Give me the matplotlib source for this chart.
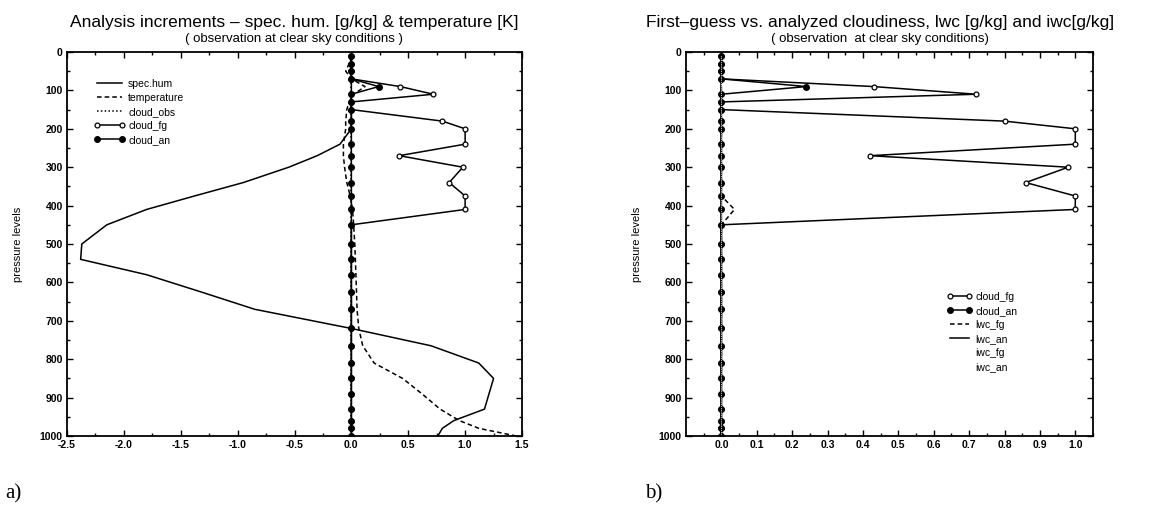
import numpy as np
import matplotlib
matplotlib.use('Agg')
import matplotlib.pyplot as plt
from matplotlib.ticker import MultipleLocator, FixedLocator

plt.rcParams['font.family'] = ['Liberation Sans', 'DejaVu Sans']

# model levels (pressure levels) used by all profiles
levels = [10, 30, 50, 70, 90, 110, 130, 150, 180, 200, 240, 270, 300, 340, 375, 410,
          450, 500, 540, 580, 625, 670, 720, 765, 810, 850, 890, 930, 960, 980, 1000]

# panel a) increments
spec_hum = [0, 0, 0, 0, 0, 0, 0, 0, 0, 0, -0.10, -0.30, -0.55, -0.95, -1.38, -1.80,
            -2.15, -2.37, -2.38, -1.80, -1.32, -0.85, 0.0, 0.70, 1.12, 1.25, 1.21, 1.17,
            0.90, 0.80, 0.76]
temperature = [0.0, -0.02, -0.05, 0.0, 0.12, 0.02, -0.02, -0.04, -0.05, -0.05, -0.07,
               -0.07, -0.06, -0.04, -0.01, 0.01, 0.02, 0.03, 0.035, 0.04, 0.045, 0.05,
               0.065, 0.10, 0.20, 0.45, 0.62, 0.78, 0.95, 1.12, 1.45]
cloud_obs = [0.0] * 31

# cloud cover first guess / analysis (shared by both panels)
cloud_fg = [0, 0, 0, 0, 0.43, 0.72, 0, 0, 0.80, 1.0, 1.0, 0.42, 0.98, 0.86, 1.0, 1.0,
            0, 0, 0, 0, 0, 0, 0, 0, 0, 0, 0, 0, 0, 0, 0]
cloud_an = [0, 0, 0, 0, 0.24, 0, 0, 0, 0, 0, 0, 0, 0, 0, 0, 0,
            0, 0, 0, 0, 0, 0, 0, 0, 0, 0, 0, 0, 0, 0, 0]

# panel b) liquid / ice water content
lwc_fg = [0, 0, 0, 0, 0, 0, 0, 0, 0, 0, 0, 0, 0, 0, 0, 0.037,
          0, 0, 0, 0, 0, 0, 0, 0, 0, 0, 0, 0, 0, 0, 0]
lwc_an = [0.0] * 31
iwc_fg = [0.0] * 31
iwc_an = [0.0] * 31

fig = plt.figure(figsize=(11.73, 5.09), dpi=100)
W, H = 1173.0, 509.0
ax1 = fig.add_axes([67 / W, 1 - 436 / H, 455 / W, 384 / H])
ax2 = fig.add_axes([686 / W, 1 - 436 / H, 407 / W, 384 / H])

lw = 1.1
ax1.plot(spec_hum, levels, 'k-', lw=lw, label='spec.hum')
ax1.plot(temperature, levels, 'k', ls=(0, (3, 2)), lw=lw, label='temperature')
ax1.plot(cloud_obs, levels, 'k', ls=(0, (1, 1.5)), lw=lw, label='cloud_obs')
ax1.plot(cloud_fg, levels, 'k-', lw=lw, marker='o', ms=3.5, mfc='white', mew=0.9,
         label='cloud_fg')
ax1.plot(cloud_an, levels, 'k-', lw=lw, marker='o', ms=4, mfc='black',
         label='cloud_an')

ax2.plot(cloud_fg, levels, 'k-', lw=lw, marker='o', ms=3.5, mfc='white', mew=0.9,
         label='cloud_fg')
ax2.plot(cloud_an, levels, 'k-', lw=lw, marker='o', ms=4, mfc='black',
         label='cloud_an')
ax2.plot(lwc_fg, levels, 'k', ls=(0, (3, 2)), lw=lw, label='lwc_fg')
ax2.plot(lwc_an, levels, 'k-', lw=lw, label='lwc_an')
ax2.plot(iwc_fg, levels, color='white', ls=':', lw=0.5, label='iwc_fg')
ax2.plot(iwc_an, levels, color='white', ls=':', lw=0.5, label='iwc_an')

ax1.set_xlim(-2.5, 1.5)
ax1.xaxis.set_major_locator(MultipleLocator(0.5))
ax1.xaxis.set_minor_locator(MultipleLocator(0.25))
ax1.xaxis.set_major_formatter(plt.FormatStrFormatter('%.1f'))

ax2.set_xlim(-0.1, 1.05)
ax2.xaxis.set_major_locator(FixedLocator(np.arange(0, 1.01, 0.1)))
ax2.xaxis.set_minor_locator(FixedLocator(np.arange(-0.05, 1.051, 0.1)))
ax2.xaxis.set_major_formatter(plt.FormatStrFormatter('%.1f'))

for ax in (ax1, ax2):
    ax.set_ylim(1000, 0)
    ax.yaxis.set_major_locator(MultipleLocator(100))
    ax.yaxis.set_minor_locator(MultipleLocator(50))
    ax.tick_params(which='both', direction='in', top=True, right=True,
                   labelsize=7.5, pad=3, width=1)
    ax.tick_params(which='major', length=4)
    ax.tick_params(which='minor', length=2)
    for lab in ax.get_xticklabels() + ax.get_yticklabels():
        lab.set_fontweight('bold')
    for s in ax.spines.values():
        s.set_linewidth(1.3)
    ax.set_ylabel('pressure levels', fontsize=8, labelpad=12)

ax1.legend(loc='upper left', bbox_to_anchor=(0.06, 0.93), frameon=False, fontsize=7.5,
           handlelength=3.0, handletextpad=0.25, labelspacing=0.38, numpoints=2,
           borderpad=0, borderaxespad=0)
ax2.legend(loc='upper left', bbox_to_anchor=(0.64, 0.375), frameon=False, fontsize=7.5,
           handlelength=2.5, handletextpad=0.25, labelspacing=0.38, numpoints=2,
           borderpad=0, borderaxespad=0)

fig.text(294 / W, 1 - 27 / H, 'Analysis increments \u2013 spec. hum. [g/kg] & temperature [K]',
         ha='center', va='baseline', fontsize=12.5)
fig.text(294 / W, 1 - 42 / H, '( observation at clear sky conditions )',
         ha='center', va='baseline', fontsize=9.5)
fig.text(880 / W, 1 - 27 / H, 'First\u2013guess vs. analyzed cloudiness, lwc [g/kg] and iwc[g/kg]',
         ha='center', va='baseline', fontsize=12.5)
fig.text(880 / W, 1 - 42 / H, '( observation  at clear sky conditions)',
         ha='center', va='baseline', fontsize=9.5)

fig.text(5 / W, 1 - 494 / H, 'a)', ha='left', va='center', fontsize=15,
         family=['Liberation Serif', 'DejaVu Serif'])
fig.text(645 / W, 1 - 494 / H, 'b)', ha='left', va='center', fontsize=15,
         family=['Liberation Serif', 'DejaVu Serif'])

fig.savefig('out.png', dpi=100)
